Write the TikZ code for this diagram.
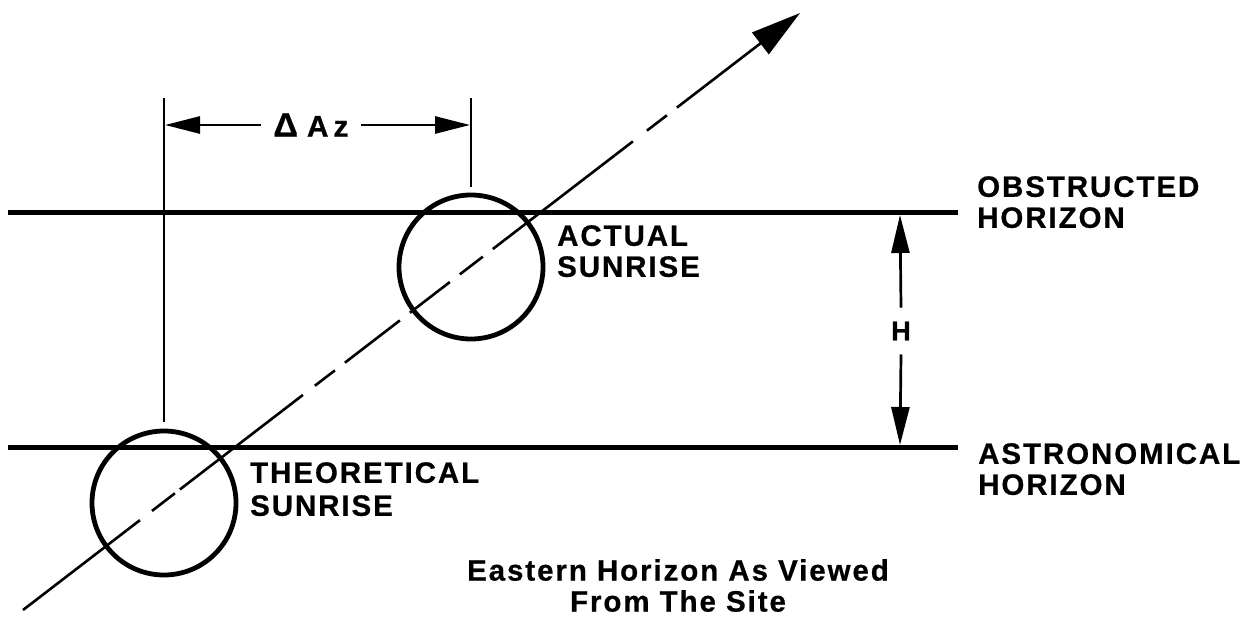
\documentclass[tikz,border=0pt]{standalone}
\usepackage{fontspec}
\setmainfont{Liberation Sans}[LetterSpace=6.5, BoldFeatures={FakeBold=0.6}]
\usetikzlibrary{arrows.meta,calc}
\begin{document}
\begin{tikzpicture}[x=1pt,y=-1pt,
  horizon/.style={line width=5pt},
  sun/.style={circle,draw,line width=4.8pt,minimum size=144pt,inner sep=0pt},
  extline/.style={line width=2.7pt},
  dimarrow/.style={line width=2.7pt,-{Triangle[length=35pt,width=17pt]}},
  harrow/.style={line width=2.7pt,-{Triangle[length=38pt,width=18pt]}},
  path/.style={line width=2.6pt,-{Triangle[length=50pt,width=27pt]},
    dash pattern=on 147.5pt off 15.1pt on 29pt off 6.3pt on 155.1pt off 15.1pt on 25.2pt off 12.6pt on 69.4pt off 12.6pt on 50.4pt off 12.6pt on 29pt off 12.6pt on 176.6pt off 17.7pt on 25.2pt off 12.6pt on 400pt off 1pt},
  lbl/.style={inner sep=0pt,align=left,font=\bfseries\fontsize{29.5}{31}\selectfont},
]
\useasboundingbox (0,0) rectangle (1244,618);

% horizons
\coordinate (obsL) at (8,212);
\coordinate (obsR) at (958,212);
\coordinate (astL) at (8,447);
\coordinate (astR) at (958,447);
\draw[horizon] (obsL) -- (obsR);
\draw[horizon] (astL) -- (astR);

% suns
\node[sun] (theo) at (164,503) {};
\node[sun] (act) at (471,267) {};

% sun path
\coordinate (lo) at (23,610);
\coordinate (hi) at (800,13);
\draw[path] (lo) -- (hi);

% extension lines
\coordinate (v1t) at (164,98);
\coordinate (v1b) at (164,422);
\coordinate (v2t) at (471,98);
\coordinate (v2b) at (471,187);
\draw[extline] (v1t) -- (v1b);
\draw[extline] (v2t) -- (v2b);

% Delta Az
\node[inner xsep=12pt,inner ysep=0pt,font=\bfseries\fontsize{30}{31}\selectfont] (daz) at (311,125) {{\fontsize{34}{34}\selectfont Δ}\hspace{9pt}A\,z};
\coordinate (azL) at (165,125);
\coordinate (azR) at (470,125);
\draw[dimarrow] (daz.west) -- (azL);
\draw[dimarrow] (daz.east) -- (azR);

% H
\node[inner xsep=0pt,inner ysep=14pt,font=\bfseries\fontsize{27}{28}\selectfont] (hlab) at (901,331) {H};
\coordinate (hT) at (900,215);
\coordinate (hB) at (900,445);
\draw[harrow] (hlab.north) -- (hT);
\draw[harrow] (hlab.south) -- (hB);

% labels
\node[lbl,anchor=north west] (obslab) at (977,176) {OBSTRUCTED\\HORIZON};
\node[lbl,anchor=north west] (astlab) at (978,443) {ASTRONOMICAL\\HORIZON};
\node[lbl,anchor=north west] (actlab) at (557,225) {ACTUAL\\SUNRISE};
\node[lbl,anchor=north west,font=\bfseries\fontsize{29.5}{33}\selectfont] (theolab) at (250,462) {THEORETICAL\\SUNRISE};
\node[lbl,align=center,anchor=north,font=\bfseries\fontsize{29.5}{31}\selectfont] (cap) at (678,559) {Eastern Horizon As Viewed\\From The Site};
\end{tikzpicture}
\end{document}
